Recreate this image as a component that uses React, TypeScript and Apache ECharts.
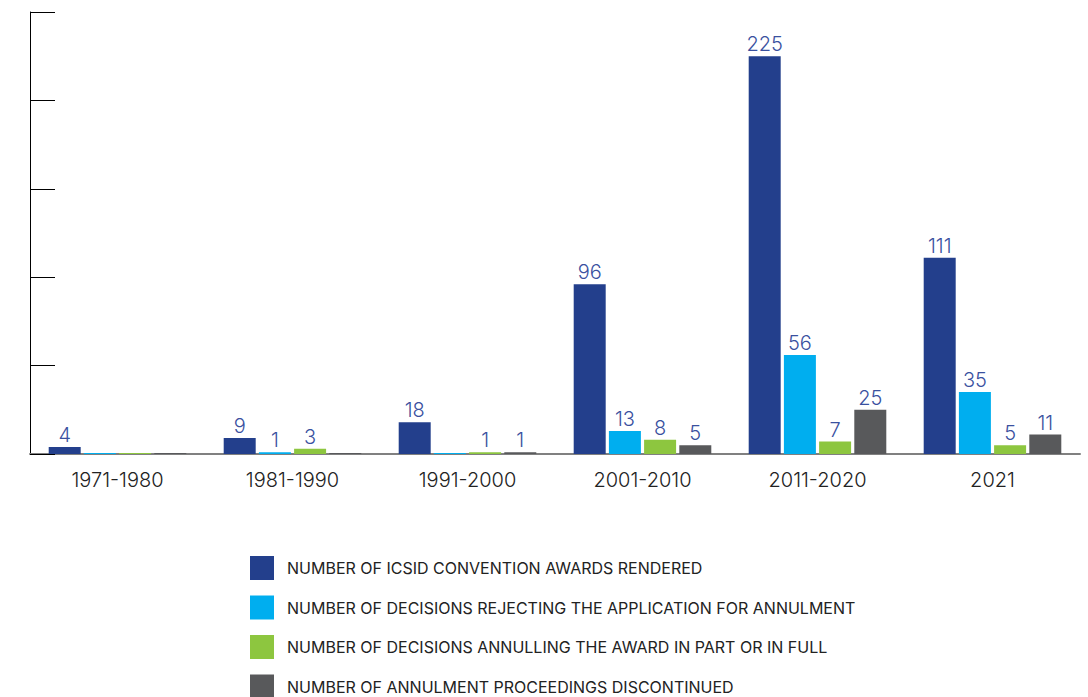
import React, { useEffect, useRef } from "react";
import * as echarts from "echarts";

const categories = ["1971-1980", "1981-1990", "1991-2000", "2001-2010", "2011-2020", "2021"];
const awardsRendered = [4, 9, 18, 96, 225, 111];
const decisionsRejecting = [0, 1, 0, 13, 56, 35];
const decisionsAnnulling = [0, 3, 1, 8, 7, 5];
const proceedingsDiscontinued = [0, 0, 1, 5, 25, 11];
const seriesNames = [
  "NUMBER OF ICSID CONVENTION AWARDS RENDERED",
  "NUMBER OF DECISIONS REJECTING THE APPLICATION FOR ANNULMENT",
  "NUMBER OF DECISIONS ANNULLING THE AWARD IN PART OR IN FULL",
  "NUMBER OF ANNULMENT PROCEEDINGS DISCONTINUED",
];
const colors = ["#233F8C", "#00AEEF", "#8DC63F", "#58595B"];

export default function App() {
  const ref = useRef<HTMLDivElement>(null);
  useEffect(() => {
    if (!ref.current) return;
    const chart = echarts.init(ref.current, null, { renderer: "svg" });
    const data = [awardsRendered, decisionsRejecting, decisionsAnnulling, proceedingsDiscontinued];
    chart.setOption({
      animation: false,
      textStyle: { fontFamily: "Inter, sans-serif" },
      grid: { left: 30, right: 8, top: 12, bottom: 243, containLabel: false },
      legend: {
        orient: "vertical",
        left: 250,
        top: 556,
        height: 200,
        padding: 0,
        itemWidth: 24,
        itemHeight: 24,
        itemGap: 15.5,
        icon: "rect",
        textStyle: { fontSize: 16, color: "#222", padding: [0, 0, 0, 8] },
        data: seriesNames,
      },
      xAxis: {
        type: "category",
        data: categories,
        axisLine: { lineStyle: { color: "#808080", width: 2 } },
        axisTick: { inside: true, length: 7, lineStyle: { color: "#333" } },
        axisLabel: { fontSize: 20, color: "#222", margin: 16, fontWeight: 300 },
      },
      yAxis: {
        type: "value",
        min: 0,
        max: 250,
        interval: 50,
        axisLine: { show: true, lineStyle: { color: "#000", width: 1 } },
        axisTick: { show: true, inside: true, length: 25, lineStyle: { color: "#000" } },
        axisLabel: { show: false },
        splitLine: { show: false },
      },
      series: seriesNames.map((name, i) => ({
        name,
        type: "bar",
        data: data[i],
        barWidth: 32,
        barGap: "10%",
        barMinHeight: 1,
        itemStyle: { color: colors[i] },
        label: {
          show: true,
          position: "top",
          distance: 2,
          fontSize: 20,
          fontWeight: 300,
          color: "#3A519F",
          formatter: (p: any) => (p.value === 0 ? "" : String(p.value)),
        },
      })),
    });
    return () => chart.dispose();
  }, []);
  return (
    <div
      ref={ref}
      style={{ position: "absolute", left: 0, top: 0, width: 1088, height: 697 }}
    />
  );
}
